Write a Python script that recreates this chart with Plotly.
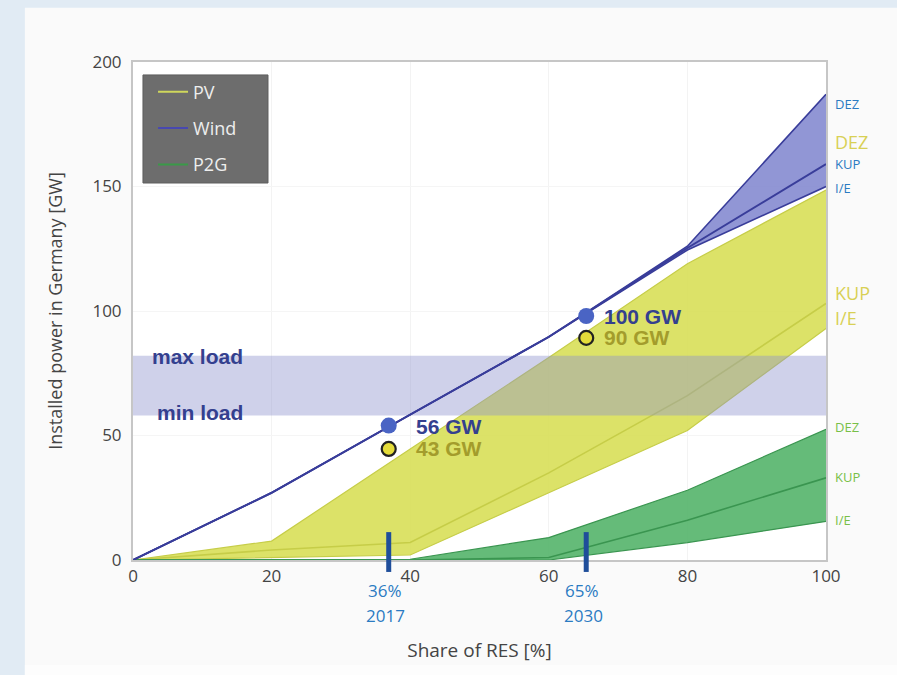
import plotly.graph_objects as go

# ---- data ----
res_share = [0, 20, 40, 60, 80, 100]

wind_ie = [0, 27, 58.4, 89.6, 124.5, 150]
wind_kup = [0, 27, 58.4, 89.6, 125.3, 159]
wind_dez = [0, 27, 58.4, 89.6, 126, 187]

pv_ie = [0, 1, 2, 27, 52, 93]
pv_kup = [0, 4, 7, 35, 66, 103]
pv_dez = [0, 7.6, 44.6, 81.3, 119, 148.6]

p2g_ie = [0, 0, 0, 0, 7, 15.5]
p2g_kup = [0, 0, 0, 1, 16, 33]
p2g_dez = [0, 0, 0.3, 9, 28, 52.5]

load_min, load_max = 58, 82

milestone_x = [36.9, 65.4]
milestone_pct = ["36%", "65%"]
milestone_year = ["2017", "2030"]
wind_points = [54, 98]
wind_point_labels = ["56 GW", "100 GW"]
pv_points = [44.6, 89.2]
pv_point_labels = ["43 GW", "90 GW"]

scen_labels = ["DEZ", "KUP", "I/E"]
# label anchor heights (GW) for the scenario names at the right edge
wind_label_y = [183, 159.2, 149.4]
pv_label_y = [168, 107.2, 97.2]
p2g_label_y = [53.4, 33.3, 16.1]

# ---- styles ----
PV_FILL = "rgba(214,221,78,0.85)"
PV_LINE = "#c6cd48"
WIND_FILL = "rgba(130,135,207,0.88)"
WIND_LINE = "#393d9a"
P2G_FILL = "rgba(84,180,106,0.9)"
P2G_LINE = "#3a9550"
BAND_FILL = "rgba(140,146,205,0.42)"

fig = go.Figure()

def band(lo, mid, hi, fill, line, name, lw=1.2):
    fig.add_trace(go.Scatter(x=res_share, y=lo, mode="lines",
                             line=dict(color=line, width=lw), showlegend=False,
                             hoverinfo="skip"))
    fig.add_trace(go.Scatter(x=res_share, y=hi, mode="lines", fill="tonexty",
                             fillcolor=fill, line=dict(color=line, width=lw),
                             showlegend=False, hoverinfo="skip"))
    fig.add_trace(go.Scatter(x=res_share, y=mid, mode="lines",
                             line=dict(color=line, width=lw + 0.4), name=name,
                             showlegend=False, hoverinfo="skip"))

band(pv_ie, pv_kup, pv_dez, PV_FILL, PV_LINE, "PV")
band(p2g_ie, p2g_kup, p2g_dez, P2G_FILL, P2G_LINE, "P2G")

# load band
fig.add_trace(go.Scatter(x=[0, 100, 100, 0, 0],
                         y=[load_min, load_min, load_max, load_max, load_min],
                         mode="lines", fill="toself", fillcolor=BAND_FILL,
                         line=dict(width=0), showlegend=False, hoverinfo="skip"))

band(wind_ie, wind_kup, wind_dez, WIND_FILL, WIND_LINE, "Wind", lw=1.6)

# points
fig.add_trace(go.Scatter(x=milestone_x, y=wind_points, mode="markers",
                         marker=dict(size=16, color="#4a64c4", line=dict(width=0)),
                         showlegend=False, cliponaxis=False))
fig.add_trace(go.Scatter(x=milestone_x, y=pv_points, mode="markers",
                         marker=dict(size=14, color="#e4dc3a",
                                     line=dict(width=2.2, color="#222222")),
                         showlegend=False, cliponaxis=False))

# legend entries
for nm, col in [("PV", "#cfd75c"), ("Wind", "#4848b0"), ("P2G", "#3a9a48")]:
    fig.add_trace(go.Scatter(x=[None], y=[None], mode="lines", name=nm,
                             legendgroup=nm, line=dict(color=col, width=2)))

annotations = []
label_shifts = [25, 16]
for xm, yw, lw, yp, lp, sh in zip(milestone_x, wind_points, wind_point_labels,
                                  pv_points, pv_point_labels, label_shifts):
    annotations.append(dict(x=xm, y=yw, text=f"<b>{lw}</b>", showarrow=False,
                            xanchor="left", yanchor="middle", xshift=sh, yshift=-1,
                            font=dict(family="Liberation Sans", size=21, color="#34408f")))
    annotations.append(dict(x=xm, y=yp, text=f"<b>{lp}</b>", showarrow=False,
                            xanchor="left", yanchor="middle", xshift=sh, yshift=0,
                            font=dict(family="Liberation Sans", size=21, color="#a39c2c")))

for xm, pct, yr in zip(milestone_x, milestone_pct, milestone_year):
    annotations.append(dict(x=xm, y=-0.062, yref="paper", text=pct, showarrow=False,
                            xanchor="center", yanchor="middle", xshift=-4,
                            font=dict(family="Open Sans", size=17, color="#2b7bc2")))
    annotations.append(dict(x=xm, y=-0.111, yref="paper", text=yr, showarrow=False,
                            xanchor="center", yanchor="middle", xshift=-3,
                            font=dict(family="Open Sans", size=17, color="#2b7bc2")))

annotations.append(dict(x=0.025, y=load_max, xref="paper", text="<b>max load</b>",
                        showarrow=False, xanchor="left", yanchor="middle", yshift=-1,
                        font=dict(family="Liberation Sans", size=21, color="#34408f")))
annotations.append(dict(x=0.032, y=load_min, xref="paper", text="<b>min load</b>",
                        showarrow=False, xanchor="left", yanchor="middle", yshift=3,
                        font=dict(family="Liberation Sans", size=21, color="#34408f")))

# right-side scenario labels
for ys, col, sz in [(wind_label_y, "#2b7bc2", 13), (pv_label_y, "#d8d055", 18),
                    (p2g_label_y, "#78bf48", 13)]:
    for v, lab in zip(ys, scen_labels):
        annotations.append(dict(x=1.0, xref="paper", y=v, text=lab, showarrow=False,
                                xanchor="left", yanchor="middle", xshift=7,
                                font=dict(family="Open Sans", size=sz, color=col)))

shapes = [
    dict(type="rect", xref="paper", yref="paper", x0=-0.156, x1=1.11, y0=-0.24, y1=1.109,
         fillcolor="#fafafa", line=dict(width=0), layer="below"),
    dict(type="rect", xref="paper", yref="paper", x0=-0.156, x1=1.11, y0=-0.24, y1=-0.211,
         fillcolor="#fdfdfd", line=dict(width=0), layer="below"),
    dict(type="rect", xref="paper", yref="paper", x0=0, x1=1, y0=0, y1=1,
         fillcolor="#ffffff", line=dict(width=0), layer="below"),
    # legend background box
    dict(type="rect", xref="paper", yref="paper", x0=0.0144, x1=0.1948, y0=0.757, y1=0.974,
         fillcolor="#6d6d6d", line=dict(color="#5e5e5e", width=1), layer="above"),
]
for xm in milestone_x:
    shapes.append(dict(type="line", xref="x", yref="paper", x0=xm, x1=xm,
                       y0=-0.024, y1=0.056, line=dict(color="#1f4e9a", width=5),
                       layer="above"))

fig.update_layout(
    width=897, height=675,
    margin=dict(l=133, r=71, t=62, b=115),
    paper_bgcolor="#e1ebf4",
    plot_bgcolor="rgba(0,0,0,0)",
    font=dict(family="Open Sans", size=17, color="#444444"),
    xaxis=dict(range=[0, 100], tickvals=[0, 20, 40, 60, 80, 100],
               showgrid=True, gridcolor="#f3f3f3", zeroline=False,
               showline=True, linecolor="#c6c6c6", linewidth=2, mirror=True,
               ticks="", tickfont=dict(size=17, color="#444444"),
               title=dict(text="Share of RES [%]", standoff=57,
                          font=dict(size=19, color="#444444"))),
    yaxis=dict(range=[0, 200], tickvals=[0, 50, 100, 150, 200],
               showgrid=True, gridcolor="#f5f5f5", zeroline=False,
               showline=True, linecolor="#c6c6c6", linewidth=2, mirror=True,
               ticks="outside", ticklen=6, tickcolor="rgba(0,0,0,0)",
               tickfont=dict(size=17, color="#444444"),
               title=dict(text="Installed power in Germany [GW]", standoff=25,
                          font=dict(size=18, color="#444444"))),
    legend=dict(x=0.0289, y=0.977, xanchor="left", yanchor="top",
                bgcolor="rgba(0,0,0,0)", borderwidth=0,
                font=dict(family="Open Sans", size=18, color="#eeeeee"),
                tracegroupgap=10, traceorder="grouped", itemwidth=30),
    annotations=annotations,
    shapes=shapes,
)

fig.write_html("out.html")
